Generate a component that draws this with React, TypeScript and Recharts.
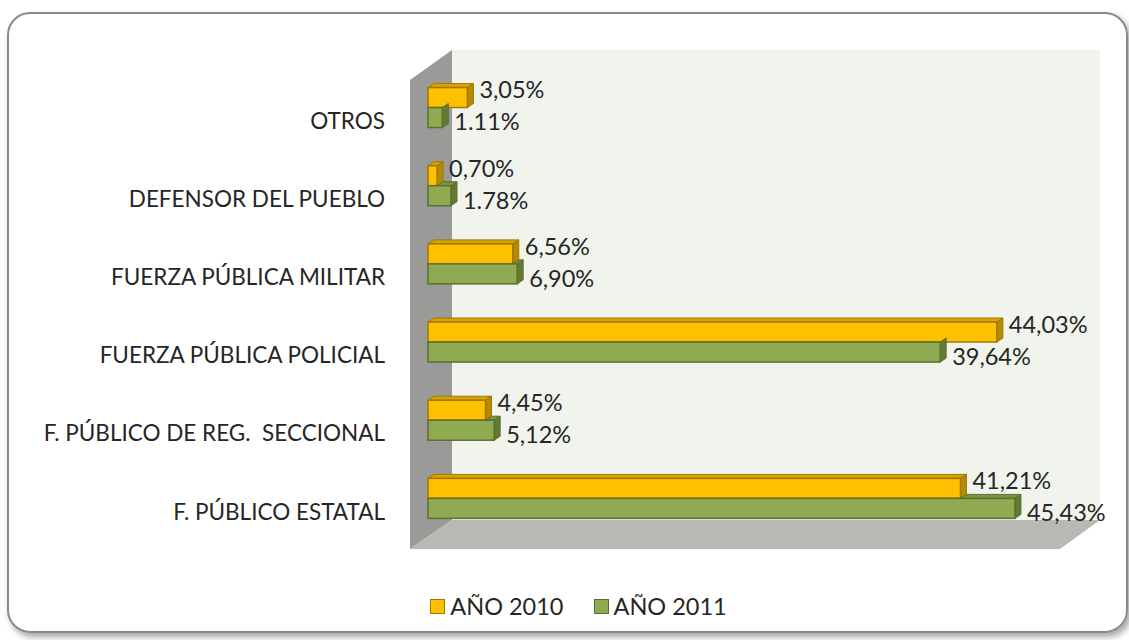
import { BarChart, Bar, XAxis, YAxis, Legend, LabelList } from "recharts";

const categories = [
  "OTROS",
  "DEFENSOR DEL PUEBLO",
  "FUERZA PÚBLICA MILITAR",
  "FUERZA PÚBLICA POLICIAL",
  "F. PÚBLICO DE REG.  SECCIONAL",
  "F. PÚBLICO ESTATAL",
];
const values2010 = [3.05, 0.7, 6.56, 44.03, 4.45, 41.21];
const values2011 = [1.11, 1.78, 6.9, 39.64, 5.12, 45.43];
const labels2010 = ["3,05%", "0,70%", "6,56%", "44,03%", "4,45%", "41,21%"];
const labels2011 = ["1.11%", "1.78%", "6,90%", "39,64%", "5,12%", "45,43%"];

const data = categories.map((name, i) => ({
  name,
  y2010: values2010[i],
  y2011: values2011[i],
  l2010: labels2010[i],
  l2011: labels2011[i],
}));

const FONT = "Lato, 'Noto Sans', sans-serif";
const DX = 6;
const DY = 4;

const colors = {
  y2010: { front: "#FFC000", top: "#D9A300", side: "#B88A00", line: "#A07800" },
  y2011: { front: "#8FAA50", top: "#7A9440", side: "#647A34", line: "#5A7030" },
};

function Bar3D(props: any) {
  const { x, y, width, height, fill, payload, dataKey } = props;
  const c = colors[dataKey as "y2010" | "y2011"];
  if (!c || width <= 0) return null;
  // green bar sits under the yellow one, so only the part beyond it shows its top
  let topStart = x;
  if (dataKey === "y2011") {
    topStart = x + Math.min(width, (width * payload.y2010) / payload.y2011);
  }
  return (
    <g>
      {topStart < x + width && (
        <polygon
          points={`${topStart},${y} ${topStart + DX},${y - DY} ${x + width + DX},${y - DY} ${x + width},${y}`}
          fill={c.top}
          stroke={c.line}
          strokeWidth={1}
        />
      )}
      <polygon
        points={`${x + width},${y} ${x + width + DX},${y - DY} ${x + width + DX},${y + height - DY} ${x + width},${y + height}`}
        fill={c.side}
        stroke={c.line}
        strokeWidth={1}
      />
      <rect x={x} y={y} width={width} height={height} fill={fill} stroke={c.line} strokeWidth={1.5} />
    </g>
  );
}

function makeLabel(dy: number) {
  return (props: any) => {
    const { x, y, width, height, value } = props;
    return (
      <text
        x={x + width + DX + 6}
        y={y + height / 2 + dy}
        fontFamily={FONT}
        fontSize={23.5}
        fill="#262626"
        dominantBaseline="middle"
      >
        {value}
      </text>
    );
  };
}

function CategoryTick(props: any) {
  const { x, y, payload } = props;
  return (
    <text
      x={x}
      y={y + 16}
      textAnchor="end"
      dominantBaseline="middle"
      fontFamily={FONT}
      fontSize={22.5}
      fill="#262626"
      style={{ whiteSpace: "pre" }}
    >
      {payload.value}
    </text>
  );
}

function LegendBox() {
  const items = [
    { label: "AÑO 2010", c: colors.y2010 },
    { label: "AÑO 2011", c: colors.y2011 },
  ];
  return (
    <div style={{ display: "flex", justifyContent: "center", gap: 30, fontFamily: FONT, fontSize: 23.5, color: "#262626" }}>
      {items.map((it) => (
        <div key={it.label} style={{ display: "flex", alignItems: "center", gap: 5 }}>
          <span
            style={{
              width: 13,
              height: 13,
              background: it.c.front,
              border: `1.5px solid ${it.c.line}`,
              display: "inline-block",
            }}
          />
          {it.label}
        </div>
      ))}
    </div>
  );
}

export default function App() {
  return (
    <div style={{ position: "absolute", left: 0, top: 0, width: 1129, height: 640, background: "#fff" }}>
      <svg width={1129} height={640} style={{ position: "absolute", left: 0, top: 0 }}>
        <defs>
          <filter id="shadow" x="-5%" y="-5%" width="110%" height="110%">
            <feDropShadow dx="3" dy="4" stdDeviation="3" floodColor="#000" floodOpacity="0.35" />
          </filter>
        </defs>
        <rect x={8} y={13} width={1119} height={619} rx={22} fill="#fff" stroke="#8a8a8a" strokeWidth={2} filter="url(#shadow)" />
        <rect x={452} y={50} width={648} height={470} fill="#F1F4EC" />
        <polygon points="410,80 452,50 452,520 410,549" fill="#9A9B99" />
        <polygon points="410,549 452,520 1100,520 1060,549" fill="#B7B9B4" />
      </svg>
      <div style={{ position: "absolute", left: 0, top: 0 }}>
        <BarChart
          width={1129}
          height={640}
          data={data}
          layout="vertical"
          margin={{ top: 68, right: 55, bottom: 103, left: 0 }}
          barCategoryGap="25%"
          barGap={0}
        >
          <XAxis type="number" domain={[0, 50]} hide />
          <YAxis
            type="category"
            dataKey="name"
            width={428}
            axisLine={false}
            tickLine={false}
            tickSize={0}
            tickMargin={43}
            interval={0}
            tick={<CategoryTick />}
          />
          <Legend
            verticalAlign="middle"
            align="center"
            content={<LegendBox />}
            wrapperStyle={{ top: 592, left: 14, width: 1129 }}
          />
          <Bar dataKey="y2010" name="AÑO 2010" fill={colors.y2010.front} shape={<Bar3D />} isAnimationActive={false}>
            <LabelList dataKey="l2010" content={makeLabel(-5)} />
          </Bar>
          <Bar dataKey="y2011" name="AÑO 2011" fill={colors.y2011.front} shape={<Bar3D />} isAnimationActive={false}>
            <LabelList dataKey="l2011" content={makeLabel(7)} />
          </Bar>
        </BarChart>
      </div>
    </div>
  );
}
